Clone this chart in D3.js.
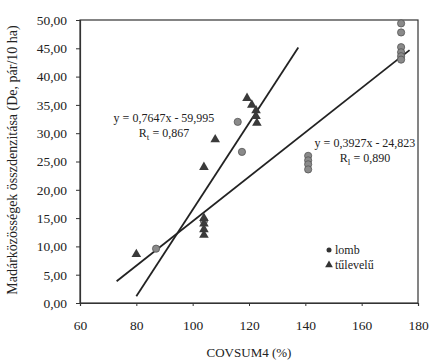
<!DOCTYPE html>
<html><head><meta charset="utf-8">
<script src="https://cdn.jsdelivr.net/npm/d3@7"></script>
<style>body{margin:0;background:#fff}svg{display:block}text{font-family:"Liberation Serif","DejaVu Serif",serif;fill:#222}</style>
</head><body><svg id="c" width="430" height="362"></svg>
<script>
const xTicks = [60, 80, 100, 120, 140, 160, 180];
const yTicks = [0, 5, 10, 15, 20, 25, 30, 35, 40, 45, 50];
const lombX = [87, 104, 116, 117.5, 141, 141, 141, 141, 174, 174, 174, 174, 174, 174];
const lombY = [9.6, 14.5, 32.0, 26.7, 26.0, 25.2, 24.5, 23.6, 49.4, 47.8, 45.2, 44.3, 43.6, 43.0];
const tuX = [80, 104, 104, 104, 104, 104, 108, 119.3, 121, 122.5, 122.5, 122.8];
const tuY = [8.6, 15.0, 14.0, 13.0, 12.0, 24.0, 28.9, 36.2, 35.0, 34.0, 33.0, 31.8];
const lineTu = {slope: 0.7647, icpt: -59.995, x0: 80, x1: 137.5};
const lineLomb = {slope: 0.3927, icpt: -24.823, x0: 73, x1: 177};
const labels = {eqTu: "y = 0,7647x - 59,995", rTu: ["R", "t", " = 0,867"],
  eqLomb: "y = 0,3927x - 24,823", rLomb: ["R", "l", " = 0,890"],
  xTitle: "COVSUM4 (%)", yTitle: "Madárközösségek összdenzitása (De, pár/10 ha)",
  legend: ["lomb", "tűlevelű"]};

const svg = d3.select("#c");
const m = {l: 80, r: 418, t: 20, b: 303};
const x = d3.scaleLinear().domain([60, 180]).range([m.l, m.r]);
const y = d3.scaleLinear().domain([0, 50]).range([m.b, m.t]);
const fmt = d => d3.format(".2f")(d).replace(".", ",");

// frame
svg.append("rect").attr("x", m.l).attr("y", m.t).attr("width", m.r - m.l).attr("height", m.b - m.t)
  .attr("fill", "none").attr("stroke", "#333").attr("stroke-width", 1.2);

const ya = svg.append("g").attr("transform", `translate(${m.l},0)`)
  .call(d3.axisLeft(y).tickValues(yTicks).tickFormat(fmt).tickSize(4).tickPadding(9));
const xa = svg.append("g").attr("transform", `translate(0,${m.b})`)
  .call(d3.axisBottom(x).tickValues(xTicks).tickFormat(d3.format("d")).tickSize(3).tickPadding(14));
[ya, xa].forEach(g => {
  g.select(".domain").attr("stroke", "#333").attr("stroke-width", 1.2);
  g.selectAll(".tick line").attr("stroke", "#333");
  g.selectAll("text").style("font-family", '"Liberation Serif",serif').style("font-size", "13.5px").attr("fill", "#222");
});

// regression lines
[lineTu, lineLomb].forEach(L => {
  svg.append("line").attr("x1", x(L.x0)).attr("y1", y(L.slope * L.x0 + L.icpt))
    .attr("x2", x(L.x1)).attr("y2", y(L.slope * L.x1 + L.icpt))
    .attr("stroke", "#222").attr("stroke-width", 1.8);
});

// points
const lomb = lombX.map((v, i) => [v, lombY[i]]);
const tu = tuX.map((v, i) => [v, tuY[i]]);
svg.append("g").selectAll("circle").data(lomb).join("circle")
  .attr("cx", d => x(d[0])).attr("cy", d => y(d[1])).attr("r", 3.6)
  .attr("fill", "#8a8a8a").attr("stroke", "#555").attr("stroke-width", 0.8);
const tri = d3.symbol().type(d3.symbolTriangle).size(40);
svg.append("g").selectAll("path").data(tu).join("path")
  .attr("transform", d => `translate(${x(d[0])},${y(d[1])})`).attr("d", tri)
  .attr("fill", "#3a3a3a");

// equations
function eq(cx, yb, eqText, r) {
  svg.append("text").attr("x", cx).attr("y", yb).attr("text-anchor", "middle").style("font-size", "12px").text(eqText);
  const t = svg.append("text").attr("x", cx).attr("y", yb + 15).attr("text-anchor", "middle").style("font-size", "12px");
  t.append("tspan").text(r[0]);
  t.append("tspan").attr("dy", 3).style("font-size", "9px").text(r[1]);
  t.append("tspan").attr("dy", -3).text(r[2]);
}
eq(164, 122, labels.eqTu, labels.rTu);
eq(365, 147, labels.eqLomb, labels.rLomb);

// legend
svg.append("circle").attr("cx", 329).attr("cy", 250).attr("r", 2.5).attr("fill", "#333");
svg.append("path").attr("transform", "translate(329,265)").attr("d", d3.symbol().type(d3.symbolTriangle).size(26)).attr("fill", "#333");
svg.append("text").attr("x", 335).attr("y", 254).style("font-size", "12px").text(labels.legend[0]);
svg.append("text").attr("x", 335).attr("y", 269).style("font-size", "12px").text(labels.legend[1]);

// titles
svg.append("text").attr("x", 249).attr("y", 357).attr("text-anchor", "middle").style("font-size", "13px").text(labels.xTitle);
svg.append("text").attr("transform", "translate(17,160) rotate(-90)").attr("text-anchor", "middle").style("font-size", "14px").text(labels.yTitle);
</script></body></html>
